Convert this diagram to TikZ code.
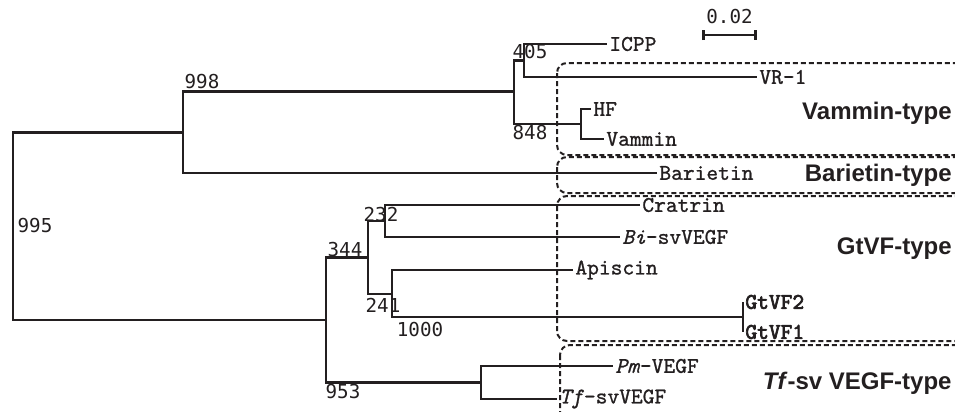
\documentclass[tikz,border=0pt]{standalone}
\usepackage{fontspec}
\setmainfont{Liberation Sans}
\newfontfamily\numfont{DejaVu Sans Mono}
\newfontfamily\leaffont[FakeBold=1,ItalicFont=lmmono10-italic.otf]{lmmono10-regular.otf}
\newfontfamily\gtfont[FakeBold=3]{lmmono10-regular.otf}
\usetikzlibrary{arrows.meta,positioning,calc}
\definecolor{inkgrey}{HTML}{231F20}

\begin{document}
\begin{tikzpicture}[
    x=0.5pt, y=-0.5pt,
    every node/.style={text=inkgrey},
    branch/.style={line width=1.3pt, inkgrey},
    leafname/.style={anchor=west, inner xsep=1pt, inner ysep=0pt, font=\leaffont\fontsize{11.2}{11}\selectfont},
    boldleaf/.style={leafname, font=\gtfont\fontsize{11.2}{11}\selectfont},
    bootval/.style={inner sep=0pt, font=\numfont\fontsize{9.6}{10}\selectfont},
    groupname/.style={anchor=east, inner sep=0pt, font=\bfseries\fontsize{12}{12}\selectfont},
    groupbox/.style={draw=inkgrey, line width=1pt, dash pattern=on 2.5pt off 1.5pt, rounded corners=5pt},
]
\useasboundingbox (0,0) rectangle (955,412);

% Group boxes
\draw[groupbox] (557,63) rectangle (965,155);
\draw[groupbox] (557,157) rectangle (965,193);
\draw[groupbox] (557,196) rectangle (965,341);
\draw[groupbox] (560,345) rectangle (965,422);

% Internal nodes
\coordinate (root) at (13,226.5);
\coordinate (n998) at (183,132.5);
\coordinate (n848) at (514,91.5);
\coordinate (n405) at (524,60.5);
\coordinate (nhf) at (581,124);
\coordinate (n344) at (326,320);
\coordinate (nsplit) at (368,257.5);
\coordinate (n232) at (385,221);
\coordinate (n241) at (392,294);
\coordinate (ngt) at (743,317);
\coordinate (ntf) at (481,382.5);

% Leaves
\node[leafname] (icpp) at (607,44) {ICPP};
\node[leafname] (vr1) at (757,77) {VR-1};
\node[leafname] (hf) at (591,109) {HF};
\node[leafname] (vammin) at (604,139) {Vammin};
\node[leafname] (barietin) at (657,173) {Barietin};
\node[leafname] (cratrin) at (640,205) {Cratrin};
\node[leafname] (bisv) at (620,237) {\textit{Bi}-svVEGF};
\node[leafname] (apiscin) at (573,270) {Apiscin};
\node[boldleaf] (gtvf2) at (743,302) {GtVF2};
\node[boldleaf] (gtvf1) at (743,332) {GtVF1};
\node[leafname] (pmvegf) at (613,366) {\textit{Pm}-VEGF};
\node[leafname] (tfsv) at (557,399) {\textit{Tf}-svVEGF};

% Branches
\draw[branch] (root) |- (n998);
\draw[branch] (root) |- (n344);
\draw[branch] (n998) |- (n848);
\draw[branch] (n998) |- (barietin.west);
\draw[branch] (n848) |- (n405);
\draw[branch] (n848) |- (nhf);
\draw[branch] (n405) |- (icpp.west);
\draw[branch] (n405) |- (vr1.west);
\draw[branch] (nhf) |- (hf.west);
\draw[branch] (nhf) |- (vammin.west);
\draw[branch] (n344) |- (nsplit);
\draw[branch] (n344) |- (ntf);
\draw[branch] (nsplit) |- (n232);
\draw[branch] (nsplit) |- (n241);
\draw[branch] (n232) |- (cratrin.west);
\draw[branch] (n232) |- (bisv.west);
\draw[branch] (n241) |- (apiscin.west);
\draw[branch] (n241) |- (ngt);
\draw[branch] (gtvf2.west) -- (gtvf1.west);
\draw[branch] (ntf) |- (pmvegf.west);
\draw[branch] (ntf) |- (tfsv.west);

% Bootstrap values
\node[bootval] (b998) at (202,82) {998};
\node[bootval] (b995) at (35,226) {995};
\node[bootval] (b405) at (530,52) {405};
\node[bootval] (b848) at (530,133) {848};
\node[bootval] (b232) at (381,215) {232};
\node[bootval] (b344) at (345,250) {344};
\node[bootval] (b241) at (383,305) {241};
\node[bootval] (b1000) at (420,330) {1000};
\node[bootval] (b953) at (343,392) {953};

% Scale bar
\coordinate (sbl) at (702,35);
\coordinate (sbr) at (757,35);
\draw[branch, {Bar[width=5pt]}-{Bar[width=5pt]}] (sbl) -- (sbr);
\node[bootval] (sblabel) at (729.5,17) {0.02};

% Group labels
\node[groupname] (gvam) at (952,113) {Vammin-type};
\node[groupname] (gbar) at (952,175) {Barietin-type};
\node[groupname] (ggt) at (952,249) {GtVF-type};
\node[groupname] (gtf) at (952,383) {\textit{Tf}-sv VEGF-type};

\end{tikzpicture}
\end{document}
